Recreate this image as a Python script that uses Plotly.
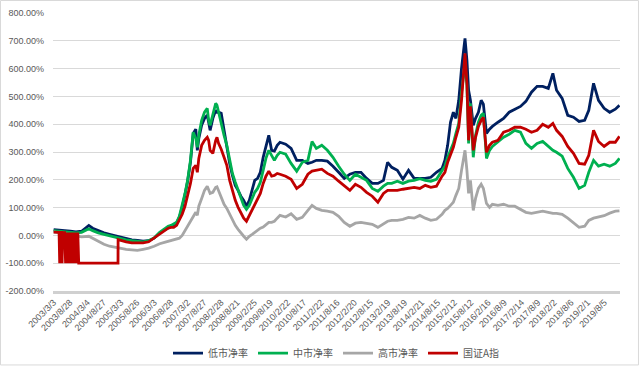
import plotly.graph_objects as go
from datetime import datetime

# ---------------- data (values in %) ----------------
dates = [
    "2003-03-03", "2003-04-10", "2003-05-01", "2003-05-08", "2003-05-14", "2003-05-28",
    "2003-06-03", "2003-06-09", "2003-07-01", "2003-07-11", "2003-07-21", "2003-07-31",
    "2003-08-10", "2003-08-20", "2003-09-01", "2003-09-11", "2003-09-21", "2003-10-01",
    "2003-10-11", "2003-10-21", "2003-11-01", "2003-11-11", "2003-11-21", "2003-12-01",
    "2004-01-01", "2004-03-20", "2004-05-01", "2004-07-01", "2004-09-01", "2004-11-01",
    "2005-01-01", "2005-02-01", "2005-02-02", "2005-03-01", "2005-05-01", "2005-07-01",
    "2005-09-01", "2005-11-01", "2006-01-01", "2006-03-01", "2006-05-01", "2006-07-01",
    "2006-08-01", "2006-09-01", "2006-10-01", "2006-11-01", "2006-12-01", "2007-01-01",
    "2007-02-01", "2007-03-01", "2007-04-01", "2007-05-01", "2007-05-29", "2007-06-15",
    "2007-07-01", "2007-08-01", "2007-09-01", "2007-10-01", "2007-10-16", "2007-11-01",
    "2007-12-01", "2008-01-01", "2008-01-15", "2008-02-01", "2008-03-01", "2008-04-01",
    "2008-05-01", "2008-06-01", "2008-07-01", "2008-08-01", "2008-09-01", "2008-10-01",
    "2008-11-01", "2008-12-01", "2009-01-01", "2009-02-01", "2009-03-01", "2009-04-01",
    "2009-05-01", "2009-06-01", "2009-07-01", "2009-08-01", "2009-09-01", "2009-10-01",
    "2009-11-01", "2009-12-01", "2010-02-01", "2010-04-01", "2010-06-01", "2010-08-01",
    "2010-10-01", "2010-11-15", "2011-01-01", "2011-03-01", "2011-05-01", "2011-07-01",
    "2011-09-01", "2011-11-01", "2012-01-01", "2012-03-01", "2012-05-01", "2012-07-01",
    "2012-09-01", "2012-11-01", "2013-01-01", "2013-02-15", "2013-04-01", "2013-06-01",
    "2013-08-01", "2013-10-01", "2013-12-01", "2014-02-01", "2014-04-01", "2014-06-01",
    "2014-08-01", "2014-10-01", "2014-11-01", "2014-12-01", "2015-01-01", "2015-02-01",
    "2015-03-01", "2015-04-01", "2015-05-01", "2015-06-08", "2015-06-29", "2015-07-17",
    "2015-08-06", "2015-09-06", "2015-10-01", "2015-11-01", "2015-12-01", "2015-12-25",
    "2016-01-28", "2016-03-01", "2016-04-01", "2016-06-01", "2016-08-01", "2016-10-01",
    "2016-12-01", "2017-02-01", "2017-04-01", "2017-06-01", "2017-08-01", "2017-10-01",
    "2017-12-01", "2018-01-20", "2018-03-01", "2018-05-01", "2018-07-01", "2018-09-01",
    "2018-11-01", "2019-01-01", "2019-02-15", "2019-04-08", "2019-06-01", "2019-08-01",
    "2019-10-01", "2019-12-01", "2020-01-15",
]

N = None
low_pb = [  # 低市净率
    21, N, 18, N, N, N, N, N, 17, N, N, N, N, N, 15, N, N, N, N, N, 13, N, N, N,
    15, 36, 26, 17, 9, 4, -1, N, N, -7, -12, -16, -18, -21, -19, -10, 9, 22,
    27, 33, 36, 44, 65, 101, 148, 195, 263, 367, 382, 306,
    349, 396, 421, 432, 407, 378, 421, 450, 443, 443, 439, 378,
    324, 259, 216, 180, 162, 141, 126, 105, 126, 162, 198, 205,
    227, 281, 324, 360, 306, 303, 324, 335, 328, 313, 270, 270,
    259, 263, 270, 270, 267, 249, 227, 205, 220, 227, 227, 205,
    187, 187, 198, 263, 245, 234, 202, 234, 205, 205, 205, 209,
    227, 241, 270, 324, 407, 443, 421, 486, 601, 709, 630, 522,
    486, 396, 421, 443, 486, 472, 367, 382, 392, 407, 421, 443,
    454, 464, 482, 515, 536, 536, 529, 583, 522, 493, 432, 425,
    410, 414, 450, 547, 486, 457, 443, 454, 468,
]
mid_pb = [  # 中市净率
    17, N, 15, N, N, N, N, N, 13, N, N, N, N, N, 11, N, N, N, N, N, 9, N, N, N,
    11, 24, 17, 9, 4, -1, -7, N, N, -10, -16, -19, -21, -23, -19, -9, 11, 26,
    33, 36, 40, 47, 69, 105, 151, 198, 270, 371, 349, 317,
    360, 414, 443, 457, 414, 396, 432, 475, 468, 443, 396, 360,
    324, 270, 223, 191, 162, 133, 108, 94, 108, 133, 155, 169,
    191, 234, 277, 306, 288, 270, 288, 299, 292, 259, 231, 263,
    270, 338, 313, 324, 306, 281, 249, 220, 198, 220, 209, 198,
    169, 159, 177, 187, 187, 195, 187, 195, 198, 204, 198, 195,
    202, 234, 249, 281, 306, 331, 367, 403, 515, 619, 540, 331,
    475, 281, 360, 407, 432, 439, 277, 306, 320, 338, 353, 364,
    378, 371, 331, 313, 331, 338, 320, 306, 299, 285, 241, 209,
    169, 180, 227, 270, 249, 256, 249, 259, 277,
]
high_pb = [  # 高市净率
    13, N, 9, N, N, N, N, N, 6, N, N, N, N, N, 2, N, N, N, N, N, -1, N, N, N,
    -5, -3, -10, -21, -32, -39, -43, N, N, -46, -50, -52, -54, -50, -46, -39, -30, -24,
    -21, -18, -16, -14, -10, 0, 18, 36, 54, 72, 83, 72,
    105, 133, 162, 177, 162, 151, 155, 173, 175, 162, 137, 112,
    97, 76, 51, 36, 22, 8, -3, -14, -3, 4, 11, 18,
    26, 30, 40, 47, 47, 51, 62, 72, 66, 78, 58, 65,
    90, 108, 97, 90, 87, 83, 69, 47, 33, 44, 47, 44,
    40, 29, 40, 51, 54, 54, 58, 65, 62, 72, 62, 54,
    58, 76, 90, 97, 108, 119, 144, 169, 234, 306, 234, 151,
    198, 90, 133, 169, 184, 169, 115, 101, 112, 108, 112, 105,
    105, 94, 83, 79, 83, 87, 83, 79, 79, 76, 62, 47,
    29, 33, 54, 62, 66, 71, 80, 87, 88,
]
csi_a = [  # 国证A指
    12, 11, 11, -100, 11, 11, -100, 10, 10, -100, 10, -100, 10, -100, 10, -100, 10, -100,
    10, -100, 10, -100, 10, -100,
    -100, -100, -100, -100, -100, -100, -100, -100, -15, -18, -23, -27, -28, -27, -23, -9, 4, 20,
    26, 29, 29, 36, 54, 76, 105, 144, 187, 241, 252, 227,
    277, 324, 342, 353, 342, 306, 295, 342, 353, 331, 310, 281,
    252, 198, 162, 126, 101, 83, 62, 51, 72, 90, 115, 133,
    151, 187, 213, 231, 213, 216, 223, 220, 213, 202, 169, 184,
    220, 231, 234, 238, 223, 213, 195, 177, 162, 184, 173, 155,
    141, 119, 151, 162, 162, 162, 166, 169, 173, 169, 180, 173,
    177, 213, 227, 263, 288, 317, 353, 389, 486, 655, 547, 342,
    464, 306, 353, 392, 414, 425, 299, 324, 335, 342, 371, 378,
    389, 389, 382, 371, 378, 400, 389, 403, 378, 356, 320, 295,
    259, 256, 288, 378, 338, 320, 335, 335, 356,
]

series_names = ["低市净率", "中市净率", "高市净率", "国证A指"]
series_colors = ["#002060", "#00B050", "#A6A6A6", "#C00000"]

x_tick_labels = [
    "2003/3/3", "2003/8/28", "2004/3/4", "2004/8/27", "2005/3/3", "2005/8/26",
    "2006/3/3", "2006/8/28", "2007/3/2", "2007/8/27", "2008/2/28", "2008/8/21",
    "2009/2/25", "2009/8/19", "2010/2/22", "2010/8/17", "2011/2/22", "2011/8/16",
    "2012/2/20", "2012/8/15", "2013/2/19", "2013/8/19", "2014/2/21", "2014/8/15",
    "2015/2/12", "2015/8/12", "2016/2/16", "2016/8/9", "2017/2/14", "2017/8/9",
    "2018/2/2", "2018/8/6", "2019/2/1", "2019/8/5",
]
y_tick_values = [-200, -100, 0, 100, 200, 300, 400, 500, 600, 700, 800]
y_tick_labels = ["-200.00%", "-100.00%", "0.00%", "100.00%", "200.00%", "300.00%",
                 "400.00%", "500.00%", "600.00%", "700.00%", "800.00%"]

# ---------------- figure ----------------
fig = go.Figure()
for name, color, vals in zip(series_names, series_colors, [low_pb, mid_pb, high_pb, csi_a]):
    fig.add_trace(go.Scatter(
        x=dates, y=vals, name=name, mode="lines", connectgaps=True,
        line=dict(color=color, width=2.8),
    ))

x_tick_vals = [datetime.strptime(s, "%Y/%m/%d").strftime("%Y-%m-%d") for s in x_tick_labels]

tick_font = dict(family="Liberation Sans, Noto Sans CJK SC, sans-serif", size=9, color="#595959")

fig.update_layout(
    width=640, height=366,
    margin=dict(l=53, r=20, t=13, b=75, autoexpand=False),
    paper_bgcolor="white", plot_bgcolor="white",
    showlegend=True,
    legend=dict(orientation="h", x=0.5, xanchor="center",
                yref="container", y=0.035, yanchor="middle",
                font=dict(family="Noto Sans CJK SC, sans-serif", size=10, color="#595959"),
                bgcolor="rgba(0,0,0,0)"),
    xaxis=dict(
        type="date", range=["2003-02-24", "2020-01-21"],
        tickmode="array", tickvals=x_tick_vals, ticktext=x_tick_labels,
        tickangle=-45, tickfont=tick_font, showgrid=False, zeroline=False,
        showline=True, linecolor="#D0D0D0", linewidth=2.5, ticks="", automargin=False,
    ),
    yaxis=dict(
        range=[-200, 800], tickmode="array", tickvals=y_tick_values, ticktext=y_tick_labels,
        tickfont=tick_font, showgrid=True, gridcolor="#D9D9D9", gridwidth=1,
        zeroline=False, showline=False, ticks="", automargin=False, ticklabelstandoff=8,
    ),
    shapes=[dict(type="rect", xref="paper", yref="paper",
                 x0=-0.0926, x1=1.0326, y0=-0.266, y1=1.045,
                 line=dict(color="#D9D9D9", width=1), layer="below")],
)

fig.write_html("out.html", config={"displayModeBar": False},
               post_script="document.body.style.margin = '0px';")
